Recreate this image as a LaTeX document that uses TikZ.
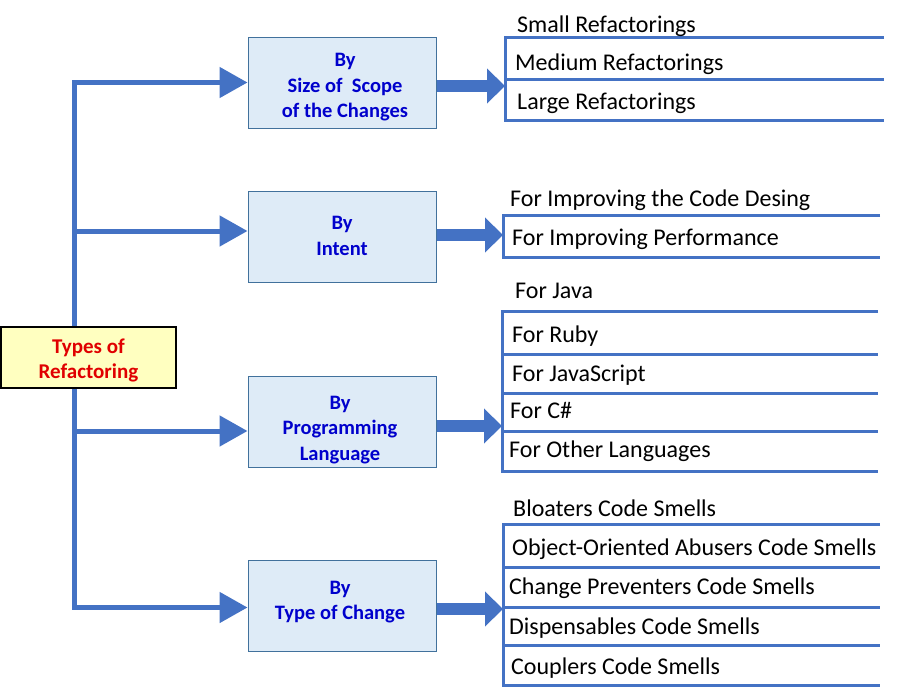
\documentclass[tikz,border=0pt]{standalone}
\usepackage{fontspec}
\setmainfont{Carlito}
\usetikzlibrary{arrows.meta}
\definecolor{lineblue}{HTML}{4472C4}
\definecolor{boxfill}{HTML}{DEEBF7}
\definecolor{boxdraw}{HTML}{41719C}
\definecolor{textblue}{HTML}{0000CC}
\definecolor{rootfill}{HTML}{FFFFC0}
\definecolor{rootred}{HTML}{E00000}
\begin{document}
\begin{tikzpicture}[x=1pt,y=-1pt,
  catbox/.style={draw=boxdraw, line width=1pt, fill=boxfill, minimum width=188pt, minimum height=91pt, inner sep=0pt},
  cattext/.style={text=textblue, font=\fontsize{20.5}{25.5}\selectfont\bfseries, align=center, inner sep=0pt},
  rootbox/.style={draw=black, line width=1.3pt, fill=rootfill, minimum width=175pt, minimum height=61pt, inner sep=0pt, text=rootred, font=\fontsize{21}{25}\selectfont\bfseries, align=center},
  trunk/.style={draw=lineblue, line width=5pt},
  branch/.style={draw=lineblue, line width=5pt, -{Triangle[length=28pt,width=30pt]}},
  blockarrow/.style={draw=lineblue, line width=12pt, -{Triangle[length=18pt,width=34pt]}},
  listline/.style={draw=lineblue, line width=3pt},
  item/.style={anchor=base west, inner sep=0pt, font=\fontsize{24}{28}\selectfont}]

\useasboundingbox (0,0) rectangle (910,696);

% category boxes
\node[catbox] (b1) at (342,82.5) {};
\node[cattext] (b1t) at (345,87.5) {By\\Size of\ \ Scope\\of the Changes};
\node[catbox] (b2) at (342,236.5) {};
\node[cattext] (b2t) at (342,236) {By\\Intent};
\node[catbox] (b3) at (342,422) {};
\node[cattext] (b3t) at (340,430) {By\\Programming\\Language};
\node[catbox] (b4) at (342,606) {};
\node[cattext] (b4t) at (340,602) {By\\Type of Change};

% trunk and branches
\coordinate (t1) at (74,82.5);
\coordinate (t2) at (74,231);
\coordinate (t3) at (74,431);
\coordinate (t4) at (74,607.5);
\draw[trunk, line cap=rect] (t1) -- (t4);
\draw[branch] (t1) -- (t1 -| b1.west);
\draw[branch] (t2) -- (t2 -| b2.west);
\draw[branch] (t3) -- (t3 -| b3.west);
\draw[branch] (t4) -- (t4 -| b4.west);

% root
\node[rootbox] (root) at (88.5,357.5) {};
\node[text=rootred, font=\fontsize{21}{25}\selectfont\bfseries, align=center, inner sep=0pt] (roott) at (88.5,360.5) {Types of\\Refactoring};

% list entry points
\coordinate (l1) at (505,86);
\coordinate (l2) at (503,235);
\coordinate (l3) at (502,426);
\coordinate (l4) at (503,609);
\draw[blockarrow] (l1 -| b1.east) -- (l1);
\draw[blockarrow] (l2 -| b2.east) -- (l2);
\draw[blockarrow] (l3 -| b3.east) -- (l3);
\draw[blockarrow] (l4 -| b4.east) -- (l4);

% list 1
\draw[listline] (884,37) -- (505,37) -- (505,120) -- (884,120);
\draw[listline] (505,79) -- (884,79);
\node[item] (i11) at (517,32) {Small Refactorings};
\node[item] (i12) at (515,70) {Medium Refactorings};
\node[item] (i13) at (517,109) {Large Refactorings};

% list 2
\draw[listline] (880,215) -- (503,215) -- (503,257) -- (880,257);
\node[item] (i21) at (510,206) {For Improving the Code Desing};
\node[item] (i22) at (512,245) {For Improving Performance};

% list 3
\draw[listline] (878,311) -- (502,311) -- (502,471) -- (878,471);
\draw[listline] (502,354) -- (878,354);
\draw[listline] (502,393) -- (878,393);
\draw[listline] (502,431) -- (878,431);
\node[item] (i31) at (515,298) {For Java};
\node[item] (i32) at (512,342) {For Ruby};
\node[item] (i33) at (512,381) {For JavaScript};
\node[item] (i34) at (510,418) {For C\#};
\node[item] (i35) at (509,457) {For Other Languages};

% list 4
\draw[listline] (880,524) -- (503,524) -- (503,685) -- (880,685);
\draw[listline] (503,567) -- (880,567);
\draw[listline] (503,607) -- (880,607);
\draw[listline] (503,645) -- (880,645);
\node[item] (i41) at (513,516) {Bloaters Code Smells};
\node[item] (i42) at (512,555) {Object-Oriented Abusers Code Smells};
\node[item] (i43) at (509,594) {Change Preventers Code Smells};
\node[item] (i44) at (509,634) {Dispensables Code Smells};
\node[item] (i45) at (511,674) {Couplers Code Smells};
\end{tikzpicture}
\end{document}
